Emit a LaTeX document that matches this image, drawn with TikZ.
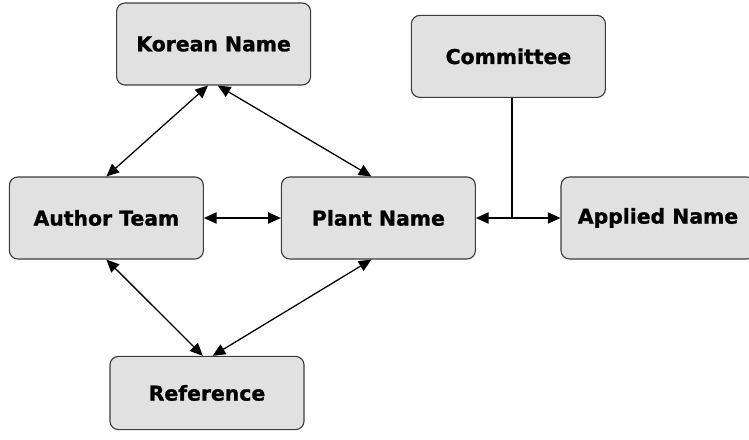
\documentclass[tikz,border=0pt]{standalone}
\usepackage{fontspec}
\setmainfont{DejaVu Sans}[BoldFeatures={FakeBold=1.2}]
\usetikzlibrary{positioning,calc}
\usetikzlibrary{arrows.meta}
\definecolor{BoxGray}{RGB}{225,225,225}
\definecolor{EdgeGray}{RGB}{60,60,60}
\tikzset{
	entity/.style={draw=EdgeGray,fill=BoxGray,rounded corners=6pt,line width=0.8pt,
		minimum width=4.85cm,minimum height=2.05cm,inner sep=0pt,
		font=\bfseries\fontsize{14.5}{17}\selectfont},
	link/.style={draw=black,line width=0.9pt,{Triangle[length=9pt,width=8pt]}-{Triangle[length=9pt,width=8pt]}},
	stem/.style={draw=black,line width=0.9pt},
}
\begin{document}
\begin{tikzpicture}
					\useasboundingbox (0,0) rectangle (18.725,11);
					\node[entity] (kor) at (5.34,9.9) {Korean Name};
					\node[entity] (com) at (12.71,9.59) {Committee};
					\node[entity] (aut) at (2.66,5.55) {Author Team};
					\node[entity] (pla) at (9.46,5.55) {Plant Name};
					\node[entity] (app) at (16.45,5.55) {Applied Name};
					\node[entity,minimum height=1.83cm] (ref) at (5.175,1.175) {Reference};
					\coordinate (join) at ($(com.south)+(0.09,0)$);
					\coordinate (joint) at (join |- pla.east);
					\draw[link] ([xshift=-4pt]kor.south) -- (aut.north);
					\draw[link] ([xshift=3pt]kor.south) -- ([xshift=-5pt]pla.north);
					\draw[link] (aut.south) -- ([xshift=-3pt]ref.north);
					\draw[link] ([xshift=-5pt]pla.south) -- ([xshift=4pt]ref.north);
					\draw[link] (aut.east) -- (pla.west);
					\draw[link] (pla.east) -- (app.west);
					\draw[stem] (join) -- (joint);
				\end{tikzpicture}
\end{document}
